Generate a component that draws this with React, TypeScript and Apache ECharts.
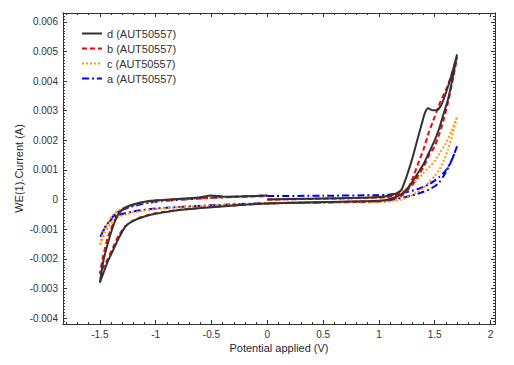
import React, { useEffect, useRef } from "react";
import * as echarts from "echarts";

const seriesNames = ["d (AUT50557)", "b (AUT50557)", "c (AUT50557)", "a (AUT50557)"];

// each cycle: 0 -> 1.7 (forward), 1.7 -> -1.5 (reverse), -1.5 -> 0 (return)
const dCurve: [number, number][] = [
  [0, 0.0], [0.2, 0.00002], [0.5, 0.00004], [0.8, 0.00006], [1.0, 0.00009], [1.1, 0.00014], [1.15, 0.0002],
  [1.2, 0.00032], [1.25, 0.0008], [1.3, 0.0014], [1.35, 0.0021], [1.38, 0.0025], [1.41, 0.0029], [1.44, 0.00308],
  [1.48, 0.00302], [1.52, 0.00302], [1.56, 0.0032], [1.6, 0.0036], [1.65, 0.0042], [1.7, 0.0049],
  [1.66, 0.0041], [1.62, 0.0034], [1.58, 0.0029], [1.54, 0.0024], [1.5, 0.002], [1.45, 0.0016], [1.4, 0.0012],
  [1.35, 0.0009], [1.3, 0.0006], [1.25, 0.00035], [1.2, 0.00018], [1.1, 0.00002], [1.0, -0.00004], [0.5, -0.00008],
  [0, -0.00013], [-0.5, -0.00026], [-0.8, -0.00036], [-1.0, -0.00048], [-1.1, -0.00057], [-1.2, -0.00072],
  [-1.27, -0.0009], [-1.33, -0.0013], [-1.38, -0.0017], [-1.43, -0.0021], [-1.47, -0.0025], [-1.5, -0.0028],
  [-1.47, -0.0021], [-1.43, -0.0015], [-1.39, -0.001], [-1.35, -0.0006], [-1.31, -0.00037], [-1.23, -0.0002],
  [-1.05, -0.00004], [-0.875, 0.0], [-0.62, 0.00007], [-0.5, 0.00014], [-0.38, 0.0001], [-0.2, 0.00011], [0, 0.00014],
];

const bCurve: [number, number][] = [
  [0, 0.0], [0.5, 0.00003], [1.0, 0.00007], [1.1, 0.0001], [1.2, 0.0002], [1.25, 0.0003], [1.3, 0.0007],
  [1.35, 0.0012], [1.4, 0.0017], [1.45, 0.0023], [1.5, 0.0028], [1.55, 0.0033], [1.6, 0.0037], [1.65, 0.0042],
  [1.7, 0.0048],
  [1.66, 0.004], [1.62, 0.0033], [1.58, 0.0027], [1.54, 0.0022], [1.5, 0.0018], [1.45, 0.0015], [1.4, 0.0011],
  [1.35, 0.0008], [1.3, 0.0005], [1.25, 0.0003], [1.2, 0.00012], [1.1, 0.0], [1.0, -0.00005], [0.5, -0.00009],
  [0, -0.00013], [-0.5, -0.00025], [-0.8, -0.00035], [-1.0, -0.00046], [-1.1, -0.00056], [-1.2, -0.0007],
  [-1.27, -0.0009], [-1.33, -0.0012], [-1.38, -0.0016], [-1.43, -0.002], [-1.5, -0.0025],
  [-1.47, -0.0019], [-1.43, -0.0013], [-1.39, -0.0009], [-1.35, -0.0006], [-1.3, -0.00035], [-1.23, -0.0002],
  [-1.05, -0.00005], [-0.875, 0.0], [-0.5, 0.00007], [0, 0.00012],
];

const cCurve: [number, number][] = [
  [0, 0.0], [0.5, 0.00003], [1.0, 0.00006], [1.1, 0.0001], [1.2, 0.00025], [1.3, 0.0005], [1.4, 0.0009],
  [1.5, 0.0013], [1.55, 0.0016], [1.6, 0.0019], [1.65, 0.0023], [1.7, 0.0028],
  [1.66, 0.0022], [1.62, 0.0017], [1.58, 0.0013], [1.54, 0.001], [1.5, 0.0008], [1.45, 0.0006], [1.4, 0.0004],
  [1.3, 0.00015], [1.2, 0.0], [1.1, -0.00006], [1.0, -0.00009], [0.5, -0.0001], [0, -0.00012], [-0.5, -0.0002],
  [-0.8, -0.00026], [-1.0, -0.00032], [-1.15, -0.0004], [-1.25, -0.00048], [-1.33, -0.00058], [-1.4, -0.0008],
  [-1.45, -0.0011], [-1.5, -0.00155],
  [-1.47, -0.0011], [-1.43, -0.0008], [-1.38, -0.0005], [-1.3, -0.0003], [-1.2, -0.00017], [-1.05, -0.00008],
  [-0.875, -0.00002], [-0.5, 0.00006], [0, 0.00012],
];

const aCurve: [number, number][] = [
  [0, 0.00012], [0.5, 0.00013], [1.0, 0.00015], [1.1, 0.00017], [1.2, 0.00022], [1.3, 0.0003], [1.38, 0.0004],
  [1.45, 0.00052], [1.5, 0.00064], [1.54, 0.00076], [1.58, 0.0009], [1.62, 0.0011], [1.66, 0.0014], [1.7, 0.0018],
  [1.66, 0.0014], [1.625, 0.0011], [1.58, 0.0008], [1.54, 0.00058], [1.5, 0.00045], [1.45, 0.00034],
  [1.38, 0.00024], [1.3, 0.00014], [1.22, 0.00007], [1.1, -0.00002], [1.0, -0.00006], [0.5, -0.0001],
  [0, -0.00012], [-0.5, -0.00019], [-1.0, -0.0003], [-1.2, -0.0004], [-1.33, -0.00052], [-1.4, -0.00068],
  [-1.45, -0.0009], [-1.5, -0.0013],
  [-1.46, -0.001], [-1.41, -0.0007], [-1.35, -0.00045], [-1.23, -0.00025], [-1.05, -0.0001], [-0.875, -0.00003],
  [-0.5, 0.00006], [0, 0.00014],
];

const xTickLabels = [-1.5, -1, -0.5, 0, 0.5, 1, 1.5, 2];
const yTickLabels = [-0.004, -0.003, -0.002, -0.001, 0, 0.001, 0.002, 0.003, 0.004, 0.005, 0.006];

const X_MIN = -1.83;
const X_MAX = 2.04;
const Y_MIN = -0.0042;
const Y_MAX = 0.0063;

function minorTicks(min: number, max: number, step: number): number[] {
  const out: number[] = [];
  const start = Math.ceil(min / step);
  const end = Math.floor(max / step);
  for (let i = start; i <= end; i++) out.push(i * step);
  return out;
}

export default function App() {
  const ref = useRef<HTMLDivElement>(null);
  useEffect(() => {
    if (!ref.current) return;
    const chart = echarts.init(ref.current, null, { renderer: "svg" });
    const font = "Liberation Sans, Arial, sans-serif";
    const axisColor = "#333";
    const xMinor = minorTicks(X_MIN, X_MAX, 0.1);
    const yMinor = minorTicks(Y_MIN, Y_MAX, 0.0001);

    const mkX = (position: string, ticks: number[], len: number, main: boolean) => ({
      type: "value",
      position,
      min: X_MIN,
      max: X_MAX,
      gridIndex: 0,
      axisLine: { show: true, onZero: false, lineStyle: { color: axisColor, width: 1 } },
      axisTick: { show: true, inside: true, length: len, customValues: ticks, lineStyle: { color: axisColor } },
      axisLabel: main
        ? { show: true, customValues: xTickLabels, fontSize: 10, color: "#333", fontFamily: font, margin: 5 }
        : { show: false },
      splitLine: { show: false },
      ...(main
        ? {
            name: "Potential applied (V)",
            nameLocation: "middle",
            nameGap: 18,
            nameMoveOverlap: false,
            nameTextStyle: { fontSize: 11, color: "#2a1f30", fontFamily: font },
          }
        : {}),
    });
    const mkY = (position: string, ticks: number[], len: number, main: boolean) => ({
      type: "value",
      position,
      min: Y_MIN,
      max: Y_MAX,
      gridIndex: 0,
      axisLine: { show: true, onZero: false, lineStyle: { color: axisColor, width: 1 } },
      axisTick: { show: true, inside: true, length: len, customValues: ticks, lineStyle: { color: axisColor } },
      axisLabel: main
        ? { show: true, customValues: yTickLabels, fontSize: 10, color: "#333", fontFamily: font, margin: 5 }
        : { show: false },
      splitLine: { show: false },
      ...(main
        ? {
            name: "WE(1).Current (A)",
            nameLocation: "middle",
            nameGap: 39,
            nameMoveOverlap: false,
            nameTextStyle: { fontSize: 11, color: "#2a1f30", fontFamily: font },
          }
        : {}),
    });

    const styles = [
      { color: "#333333", type: "solid" as any, width: 2 },
      { color: "#ff0000", type: [5, 3] as any, width: 2 },
      { color: "#ff9900", type: [2, 2] as any, width: 2 },
      { color: "#0000ff", type: [7, 3, 2, 3] as any, width: 2 },
    ];
    const curves = [dCurve, bCurve, cCurve, aCurve];

    chart.setOption({
      animation: false,
      grid: { left: 63, right: 19, top: 13, bottom: 41, containLabel: false },
      legend: {
        left: 76,
        top: 23,
        orient: "vertical",
        itemWidth: 20,
        itemHeight: 12,
        itemGap: 4,
        itemStyle: { opacity: 0 },
        textStyle: { fontSize: 11, color: "#333", fontFamily: font },
        data: seriesNames,
      },
      xAxis: [
        mkX("bottom", xTickLabels, 4, true),
        mkX("bottom", xMinor, 2, false),
        mkX("top", xTickLabels, 4, false),
        mkX("top", xMinor, 2, false),
      ],
      yAxis: [
        mkY("left", yTickLabels, 4, true),
        mkY("left", yMinor, 2, false),
        mkY("right", yTickLabels, 4, false),
        mkY("right", yMinor, 2, false),
      ],
      series: curves.map((c, i) => ({
        name: seriesNames[i],
        type: "line",
        xAxisIndex: 0,
        yAxisIndex: 0,
        data: c,
        symbol: "none",
        smooth: 0.2,
        lineStyle: styles[i],
        itemStyle: { color: styles[i].color },
        z: 10 - i,
      })),
    });
    return () => chart.dispose();
  }, []);
  return <div ref={ref} style={{ width: 514, height: 365, position: "absolute", left: 0, top: 0 }} />;
}
